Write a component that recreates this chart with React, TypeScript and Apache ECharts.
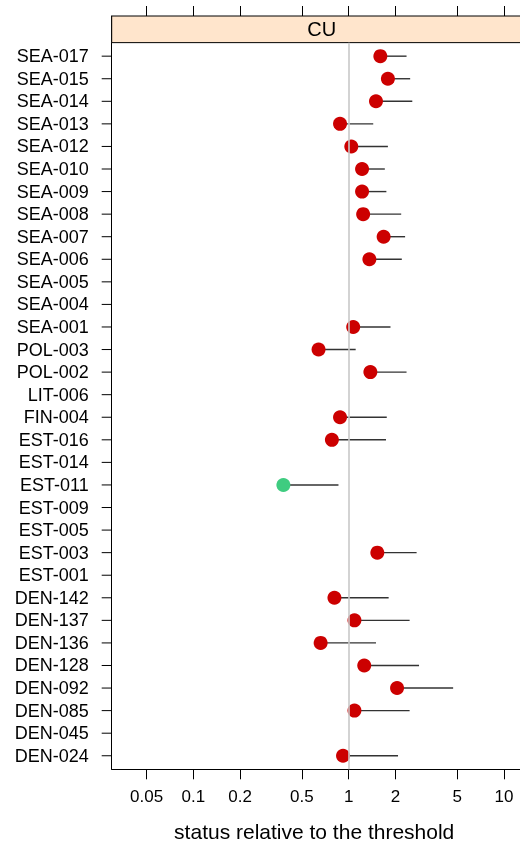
import React, { useEffect, useRef } from "react";
import * as echarts from "echarts";

// stations, listed top to bottom as in the chart
const stations: string[] = [
  "SEA-017", "SEA-015", "SEA-014", "SEA-013", "SEA-012", "SEA-010", "SEA-009", "SEA-008",
  "SEA-007", "SEA-006", "SEA-005", "SEA-004", "SEA-001", "POL-003", "POL-002", "LIT-006",
  "FIN-004", "EST-016", "EST-014", "EST-011", "EST-009", "EST-005", "EST-003", "EST-001",
  "DEN-142", "DEN-137", "DEN-136", "DEN-128", "DEN-092", "DEN-085", "DEN-045", "DEN-024",
];
// status relative to the threshold (point estimate)
const statusValues: (number | null)[] = [
  1.6, 1.79, 1.5, 0.88, 1.04, 1.22, 1.22, 1.24,
  1.68, 1.36, null, null, 1.07, 0.64, 1.38, null,
  0.88, 0.78, null, 0.38, null, null, 1.53, null,
  0.81, 1.09, 0.66, 1.26, 2.05, 1.09, null, 0.92,
];
// upper confidence limit
const upperValues: (number | null)[] = [
  2.36, 2.49, 2.57, 1.44, 1.79, 1.71, 1.75, 2.18,
  2.31, 2.2, null, null, 1.86, 1.11, 2.36, null,
  1.76, 1.74, null, 0.86, null, null, 2.74, null,
  1.81, 2.47, 1.5, 2.84, 4.71, 2.47, null, 2.08,
];
const xTickValues: number[] = [0.05, 0.1, 0.2, 0.5, 1, 2, 5, 10];
const panelTitle = "CU";
const xTitle = "status relative to the threshold";

const RED = "#CC0000";
const GREEN = "#3FCC80";
const FONT = "'Liberation Sans', Arial, sans-serif";

export default function App() {
  const ref = useRef<HTMLDivElement>(null);
  useEffect(() => {
    if (!ref.current) return;
    const chart = echarts.init(ref.current, undefined, { renderer: "svg" });
    const n = stations.length;
    const idx = (i: number) => n - 1 - i;
    const xMin = -1.526;
    const xMax = 1.179;
    const yMin = -0.6;
    const yPanelTop = n - 1 + 0.6;
    const yMax = yPanelTop + 1.18;

    const points: any[] = [];
    const segs: any[] = [];
    stations.forEach((s, i) => {
      const v = statusValues[i];
      const u = upperValues[i];
      if (v == null || u == null) return;
      points.push({
        value: [Math.log10(v), idx(i)],
        itemStyle: { color: u < 1 ? GREEN : RED, opacity: 1 },
      });
      segs.push([Math.log10(v), Math.log10(u), idx(i)]);
    });
    const yTickData = stations.map((_, i) => [xMin, i]);

    const xTicksLog = xTickValues.map((t) => Math.log10(t));
    const fmt = (v: number) => String(parseFloat(Math.pow(10, v).toPrecision(3)));

    chart.setOption({
      animation: false,
      grid: { left: 111.7, top: 16, width: 420, height: 753.3, containLabel: false, outerBoundsMode: "none" },
      xAxis: [
        {
          type: "value",
          position: "bottom",
          min: xMin,
          max: xMax,
          axisLine: { show: true, onZero: false, lineStyle: { color: "#000", width: 1 } },
          axisTick: { show: true, inside: false, length: 10, customValues: xTicksLog, lineStyle: { color: "#000", width: 1 } },
          axisLabel: { show: true, customValues: xTicksLog, formatter: fmt, fontSize: 17, color: "#000", fontFamily: FONT, margin: 19 },
          splitLine: { show: false },
          name: xTitle,
          nameLocation: "middle",
          nameGap: 52,
          nameTextStyle: { fontSize: 21, color: "#000", fontFamily: FONT, padding: [0, 15, 0, 0] },
        },
        {
          type: "value",
          position: "top",
          min: xMin,
          max: xMax,
          axisLine: { show: true, onZero: false, lineStyle: { color: "#000", width: 1 } },
          axisTick: { show: true, inside: false, length: 10, customValues: xTicksLog, lineStyle: { color: "#000", width: 1 } },
          axisLabel: { show: false },
          splitLine: { show: false },
        },
      ],
      yAxis: {
        type: "value",
        min: yMin,
        max: yMax,
        axisLine: { show: true, onZero: false, lineStyle: { color: "#000", width: 1 } },
        axisTick: { show: false },
        axisLabel: {
          show: true,
          customValues: stations.map((_, i) => i),
          formatter: (v: number) => stations[n - 1 - Math.round(v)],
          fontSize: 18,
          color: "#000",
          fontFamily: FONT,
          margin: 23,
        },
        splitLine: { show: false },
      },
      series: [
        {
          // y-axis tick marks, one per station row
          type: "custom",
          xAxisIndex: 0,
          yAxisIndex: 0,
          z: 1,
          clip: false,
          silent: true,
          data: yTickData,
          renderItem: (params: any, api: any) => {
            const p = api.coord([api.value(0), api.value(1)]);
            return {
              type: "line",
              shape: { x1: p[0] - 10, y1: p[1], x2: p[0], y2: p[1] },
              style: { stroke: "#000", lineWidth: 1 },
            };
          },
        },
        {
          type: "custom",
          xAxisIndex: 0,
          yAxisIndex: 0,
          z: 2,
          data: segs,
          renderItem: (params: any, api: any) => {
            const a = api.coord([api.value(0), api.value(2)]);
            const b = api.coord([api.value(1), api.value(2)]);
            return {
              type: "line",
              shape: { x1: a[0], y1: a[1], x2: b[0], y2: b[1] },
              style: { stroke: "#333", lineWidth: 1.4 },
            };
          },
          markLine: {
            silent: true,
            symbol: "none",
            label: { show: false },
            lineStyle: { color: "#c8c8c8", width: 1.6, type: "solid" },
            data: [[{ coord: [0, yMin] }, { coord: [0, yPanelTop] }]],
          },
          markArea: {
            silent: true,
            itemStyle: { color: "#FFE5CC", borderColor: "#000", borderWidth: 1 },
            label: { show: true, position: "inside", fontSize: 20, color: "#000", fontFamily: FONT },
            data: [[{ name: panelTitle, coord: [xMin, yPanelTop] }, { coord: [xMax, yMax] }]],
          },
        },
        {
          type: "scatter",
          xAxisIndex: 0,
          yAxisIndex: 0,
          z: 3,
          symbol: "circle",
          symbolSize: 14,
          itemStyle: { opacity: 1 },
          data: points,
        },
      ],
    });
    return () => chart.dispose();
  }, []);
  return <div ref={ref} style={{ position: "fixed", left: 0, top: 0, width: 520, height: 843 }} />;
}
